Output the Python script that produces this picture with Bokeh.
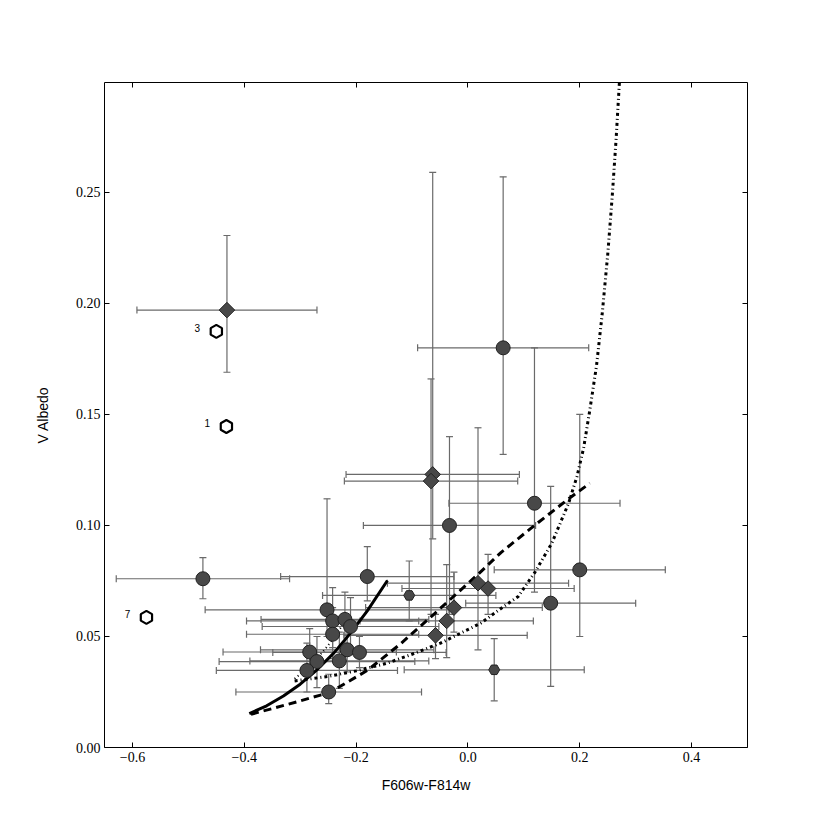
import numpy as np
from bokeh.plotting import figure
from bokeh.models import ColumnDataSource, Whisker, TeeHead, Range1d, FixedTicker, LinearAxis
from bokeh.core.properties import value
from bokeh.embed import file_html
from bokeh.resources import INLINE

# ---- data ----
circ_x = [-0.474, -0.180, 0.063, 0.119, -0.033, 0.148, 0.200, -0.252, -0.242, -0.220, -0.210,
          -0.242, -0.283, -0.216, -0.194, -0.270, -0.230, -0.288, -0.249]
circ_y = [0.076, 0.077, 0.180, 0.110, 0.100, 0.065, 0.080, 0.062, 0.057, 0.0577, 0.0545,
          0.051, 0.043, 0.044, 0.0428, 0.0387, 0.039, 0.0347, 0.025]
circ_xerr = [0.155, 0.155, 0.153, 0.153, 0.154, 0.152, 0.153, 0.218, 0.154, 0.150, 0.158,
             0.154, 0.155, 0.155, 0.155, 0.175, 0.160, 0.162, 0.166]
circ_ylo = [0.067, 0.066, 0.132, 0.070, 0.060, 0.0275, 0.050, 0.050, 0.045, 0.045, 0.042,
            0.040, 0.033, 0.034, 0.036, 0.027, 0.0266, 0.025, 0.0198]
circ_yhi = [0.0855, 0.0905, 0.257, 0.180, 0.140, 0.1176, 0.150, 0.112, 0.072, 0.070, 0.0675,
            0.063, 0.0535, 0.056, 0.050, 0.050, 0.052, 0.047, 0.033]

small_x = [-0.105, 0.047]
small_y = [0.0685, 0.035]
small_xerr = [0.155, 0.161]
small_ylo = [0.057, 0.021]
small_yhi = [0.084, 0.049]

dia_x = [-0.431, -0.063, -0.066, 0.018, 0.036, -0.025, -0.038, -0.058]
dia_y = [0.197, 0.123, 0.120, 0.074, 0.0716, 0.063, 0.057, 0.0505]
dia_xerr = [0.161, 0.155, 0.155, 0.162, 0.154, 0.158, 0.155, 0.164]
dia_ylo = [0.169, 0.094, 0.060, 0.044, 0.060, 0.052, 0.0405, 0.040]
dia_yhi = [0.2306, 0.259, 0.166, 0.144, 0.087, 0.079, 0.0824, 0.060]

hex_x = [-0.450, -0.432, -0.575]
hex_y = [0.1874, 0.1446, 0.0586]
hex_labels = ["3", "1", "7"]

solid_x = [-0.391, -0.36, -0.33, -0.30, -0.27, -0.24, -0.21, -0.18, -0.144]
solid_y = [0.0153, 0.0188, 0.0232, 0.0285, 0.0350, 0.0425, 0.0515, 0.0615, 0.0752]

dash_x = [-0.388, -0.35, -0.30, -0.247, -0.18, -0.12, -0.061, 0.018, 0.059, 0.119, 0.18, 0.218]
dash_y = [0.015, 0.0175, 0.021, 0.0248, 0.0347, 0.0468, 0.060, 0.078, 0.0878, 0.100, 0.112, 0.119]

dot_x = [-0.31, -0.25, -0.20, -0.144, -0.10, -0.049, 0.023, 0.059, 0.09, 0.12, 0.15, 0.18,
         0.195, 0.207, 0.218, 0.23, 0.24, 0.25, 0.258, 0.265, 0.271]
dot_y = [0.030, 0.032, 0.0345, 0.038, 0.042, 0.047, 0.056, 0.0626, 0.068, 0.079, 0.092, 0.110,
         0.122, 0.135, 0.152, 0.172, 0.195, 0.222, 0.248, 0.274, 0.300]

short_x = [-0.31, -0.29, -0.27, -0.25, -0.235, -0.22]
short_y = [0.031, 0.035, 0.040, 0.046, 0.051, 0.057]

x_ticks = [-0.6, -0.4, -0.2, 0.0, 0.2, 0.4]
y_ticks = [0.0, 0.05, 0.10, 0.15, 0.20, 0.25]

# ---- figure ----
p = figure(width=814, height=800, output_backend="svg", toolbar_location=None,
           x_range=Range1d(-0.65, 0.5), y_range=Range1d(0.0, 0.2995),
           min_border_left=104, min_border_right=67, min_border_top=82, min_border_bottom=53)
p.grid.visible = False
p.background_fill_color = "white"
p.border_fill_color = "white"
p.outline_line_color = "black"
p.outline_line_width = 1

def make_src(x, y, xerr, ylo, yhi):
    x = np.array(x); xerr = np.array(xerr)
    return ColumnDataSource(dict(x=x, y=y, xl=x - xerr, xu=x + xerr, yl=ylo, yu=yhi))

srcs = [make_src(circ_x, circ_y, circ_xerr, circ_ylo, circ_yhi),
        make_src(small_x, small_y, small_xerr, small_ylo, small_yhi),
        make_src(dia_x, dia_y, dia_xerr, dia_ylo, dia_yhi)]

err_col = "#6a6a6a"
for s in srcs:
    for dim, base, lo, up in (("width", "y", "xl", "xu"), ("height", "x", "yl", "yu")):
        w = Whisker(source=s, dimension=dim, base=base, lower=lo, upper=up,
                    line_color=err_col, line_width=1.2,
                    upper_head=TeeHead(size=7, line_color=err_col, line_width=1.2),
                    lower_head=TeeHead(size=7, line_color=err_col, line_width=1.2))
        p.add_layout(w)

# curves
p.line(solid_x, solid_y, line_color="black", line_width=3)
p.line(dash_x, dash_y, line_color="black", line_width=3, line_dash="8 5")
p.line(dot_x, dot_y, line_color="black", line_width=3, line_dash="3 3 1 3")
p.line(short_x, short_y, line_color="black", line_width=2, line_dash="1 3")

# markers
fill = "#484848"
p.scatter("x", "y", source=srcs[0], marker="circle", size=14, fill_color=fill,
          line_color="#222222", line_width=1)
p.scatter("x", "y", source=srcs[1], marker="hex", size=11, fill_color=fill,
          line_color="#222222", line_width=1)
p.scatter("x", "y", source=srcs[2], marker="square", size=11, angle=np.pi / 4,
          fill_color=fill, line_color="#222222", line_width=1)

hsrc = ColumnDataSource(dict(x=hex_x, y=hex_y, t=hex_labels))
p.scatter("x", "y", source=hsrc, marker="hex", size=13, angle=np.pi / 6,
          fill_color="white", line_color="black", line_width=2.2)
p.text("x", "y", text="t", source=hsrc, x_offset=-19, y_offset=-3,
       text_font=value("Liberation Sans"), text_font_size="10px",
       text_align="center", text_baseline="middle", text_color="black")

# axes
for ax, ticks in ((p.xaxis[0], x_ticks), (p.yaxis[0], y_ticks)):
    ax.ticker = FixedTicker(ticks=ticks)
    ax.major_tick_in = 5
    ax.major_tick_out = 0
    ax.minor_tick_in = 0
    ax.minor_tick_out = 0
    ax.axis_line_color = None
    ax.major_tick_line_color = "black"
    ax.major_label_text_font = "Liberation Serif"
    ax.major_label_text_font_size = "14px"
    ax.major_label_text_color = "black"
    ax.major_label_standoff = 4
    ax.axis_label_text_font = "Liberation Sans"
    ax.axis_label_text_font_size = "14px"
    ax.axis_label_text_font_style = "normal"
    ax.axis_label_text_color = "black"

p.xaxis[0].axis_label = "F606w-F814w"
p.xaxis[0].axis_label_standoff = 12
p.xaxis[0].major_label_overrides = {t: ("\u2212" if t < 0 else "") + f"{abs(t):.1f}" for t in x_ticks}
p.yaxis[0].axis_label = "V Albedo"
p.yaxis[0].axis_label_standoff = 22
p.yaxis[0].major_label_overrides = {t: f"{t:.2f}" for t in y_ticks}

for loc, ticks in (("right", y_ticks), ("above", x_ticks)):
    a = LinearAxis(ticker=FixedTicker(ticks=ticks),
                   major_label_overrides={t: "" for t in ticks},
                   major_tick_in=5, major_tick_out=0, minor_tick_in=0, minor_tick_out=0,
                   axis_line_color=None, major_label_standoff=0)
    p.add_layout(a, loc)

open("out.html", "w").write(file_html(p, INLINE))
